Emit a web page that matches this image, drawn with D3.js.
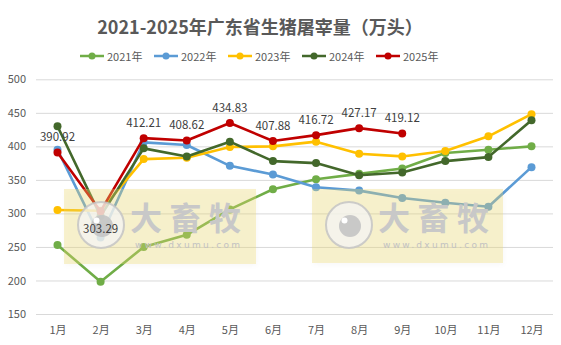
<!DOCTYPE html>
<html>
<head>
<meta charset="utf-8">
<script src="https://cdn.jsdelivr.net/npm/d3@7"></script>
<style>
  html, body { margin: 0; padding: 0; background: #fff; }
  svg { display: block; font-family: "Noto Sans CJK SC", "Noto Sans", sans-serif; }
</style>
</head>
<body>
<svg id="chart" width="561" height="345"></svg>
<script>
// Monthly pig slaughter volume in Guangdong (10k head)
const months = ["1月","2月","3月","4月","5月","6月","7月","8月","9月","10月","11月","12月"];
const yTicks = [150, 200, 250, 300, 350, 400, 450, 500];
const seriesNames = ["2021年","2022年","2023年","2024年","2025年"];
const seriesColors = ["#70AD47","#5B9BD5","#FFC000","#43682B","#C00000"];

const v2021 = [253, 198, 250, 268, 306, 336, 351, 359, 367, 390, 395, 400];
const v2022 = [395, 264, 406, 402, 371, 358, 339, 334, 323, 316, 310, 369];
const v2023 = [305, 304, 381, 383, 399, 400, 407, 389, 385, 393, 415, 448];
const v2024 = [430, 296, 397, 385, 407, 378, 375, 357, 361, 378, 384, 439];
const v2025 = [390.92, 303.29, 412.21, 408.62, 434.83, 407.88, 416.72, 427.17, 419.12];

const allSeries = [v2021, v2022, v2023, v2024, v2025];

const svg = d3.select("#chart");
const W = 561, H = 345;
svg.append("rect").attr("width", W).attr("height", H).attr("fill", "#fff");

const plotLeft = 36, plotRight = 553;
const x = d3.scalePoint().domain(months).range([57.5, 531.5]);
const y = d3.scaleLinear().domain([150, 500]).range([314, 79.3]);

// Title
svg.append("text")
  .attr("x", 260).attr("y", 26)
  .attr("text-anchor", "middle").attr("dominant-baseline", "central")
  .attr("font-size", 18).attr("font-weight", "bold").attr("fill", "#595959")
  .text("2021-2025年广东省生猪屠宰量（万头）");

// Legend
const legend = svg.append("g");
seriesNames.forEach((name, i) => {
  const lx = 80 + i * 74, ly = 56;
  const g = legend.append("g");
  g.append("line").attr("x1", lx).attr("x2", lx + 24).attr("y1", ly).attr("y2", ly)
    .attr("stroke", seriesColors[i]).attr("stroke-width", 2.5);
  g.append("circle").attr("cx", lx + 12).attr("cy", ly).attr("r", 3.5).attr("fill", seriesColors[i]);
  g.append("text").attr("x", lx + 27).attr("y", ly).attr("dominant-baseline", "central")
    .attr("font-size", 11).attr("fill", "#595959").text(name);
});

// Gridlines and y-axis labels
const yAxis = d3.axisLeft(y).tickValues(yTicks).tickSize(-(plotRight - plotLeft)).tickPadding(10);
const yg = svg.append("g").attr("transform", `translate(${plotLeft},0)`).call(yAxis);
yg.select(".domain").remove();
yg.selectAll(".tick line").attr("stroke", "#D9D9D9").attr("stroke-width", 1);
yg.selectAll(".tick text").attr("font-size", 11).attr("fill", "#595959")
  .attr("font-family", "Noto Sans CJK SC, Noto Sans, sans-serif");

// x-axis labels
const xAxis = d3.axisBottom(x).tickSize(0).tickPadding(0);
const xg = svg.append("g").attr("transform", "translate(0,323)").call(xAxis);
xg.select(".domain").remove();
xg.selectAll(".tick text").attr("font-size", 11).attr("fill", "#595959")
  .attr("dy", "0.35em").attr("y", 7)
  .attr("font-family", "Noto Sans CJK SC, Noto Sans, sans-serif");

// Series lines and markers
const line = d3.line().x((d, i) => x(months[i])).y(d => y(d));
allSeries.forEach((vals, si) => {
  const g = svg.append("g");
  g.append("path").datum(vals).attr("d", line).attr("fill", "none")
    .attr("stroke", seriesColors[si]).attr("stroke-width", 2.6)
    .attr("stroke-linejoin", "round");
  g.selectAll("circle").data(vals).join("circle")
    .attr("cx", (d, i) => x(months[i])).attr("cy", d => y(d))
    .attr("r", 4).attr("fill", seriesColors[si]);
});

// Watermark panels
const defs = svg.append("defs");
const f = defs.append("filter").attr("id", "shadow").attr("x", "-10%").attr("y", "-10%")
  .attr("width", "130%").attr("height", "140%");
f.append("feDropShadow").attr("dx", 1).attr("dy", 2).attr("stdDeviation", 2)
  .attr("flood-color", "#000").attr("flood-opacity", 0.07);

const panels = [{x0: 64, y0: 189, w: 192, h: 75}, {x0: 312, y0: 189, w: 191, h: 74}];
panels.forEach(p => {
  const g = svg.append("g");
  g.append("rect").attr("x", p.x0).attr("y", p.y0).attr("width", p.w).attr("height", p.h)
    .attr("fill", "#EAD96E").attr("fill-opacity", 0.34).attr("filter", "url(#shadow)");
  const cx = p.x0 + 37, cy = 225;
  g.append("circle").attr("cx", cx).attr("cy", cy).attr("r", 23)
    .attr("fill", "#F4F4F4").attr("fill-opacity", 0.75)
    .attr("stroke", "#C4C4C4").attr("stroke-width", 2).attr("stroke-opacity", 0.85);
  g.append("circle").attr("cx", cx + 1).attr("cy", cy + 1).attr("r", 11).attr("fill", "#C4C4C4").attr("fill-opacity", 0.9);
  g.append("circle").attr("cx", cx - 4.5).attr("cy", cy - 4.5).attr("r", 3).attr("fill", "#fff");
  g.append("text").attr("x", p.x0 + 66).attr("y", 219).attr("dominant-baseline", "central")
    .attr("font-family", "DejaVu Sans, Noto Sans CJK SC, sans-serif")
    .attr("font-size", 32).attr("font-weight", "bold").attr("fill", "#C8C8C8")
    .attr("textLength", 111).attr("lengthAdjust", "spacing")
    .text("大畜牧");
  g.append("text").attr("x", p.x0 + 71).attr("y", 245).attr("dominant-baseline", "central")
    .attr("font-size", 9).attr("fill", "#C2C2C2")
    .attr("font-family", "DejaVu Sans, sans-serif")
    .attr("textLength", 105).attr("lengthAdjust", "spacing")
    .text("www.dxumu.com");
});

// Value labels for the latest year
const labels = svg.append("g");
labels.selectAll("text").data(v2025).join("text")
  .attr("x", (d, i) => x(months[i]))
  .attr("y", (d, i) => i === 1 ? y(d) + 17 : y(d) - 16.5)
  .attr("text-anchor", "middle").attr("dominant-baseline", "central")
  .attr("font-size", 11.5).attr("fill", "#404040")
  .text(d => d.toFixed(2));
</script>
</body>
</html>
